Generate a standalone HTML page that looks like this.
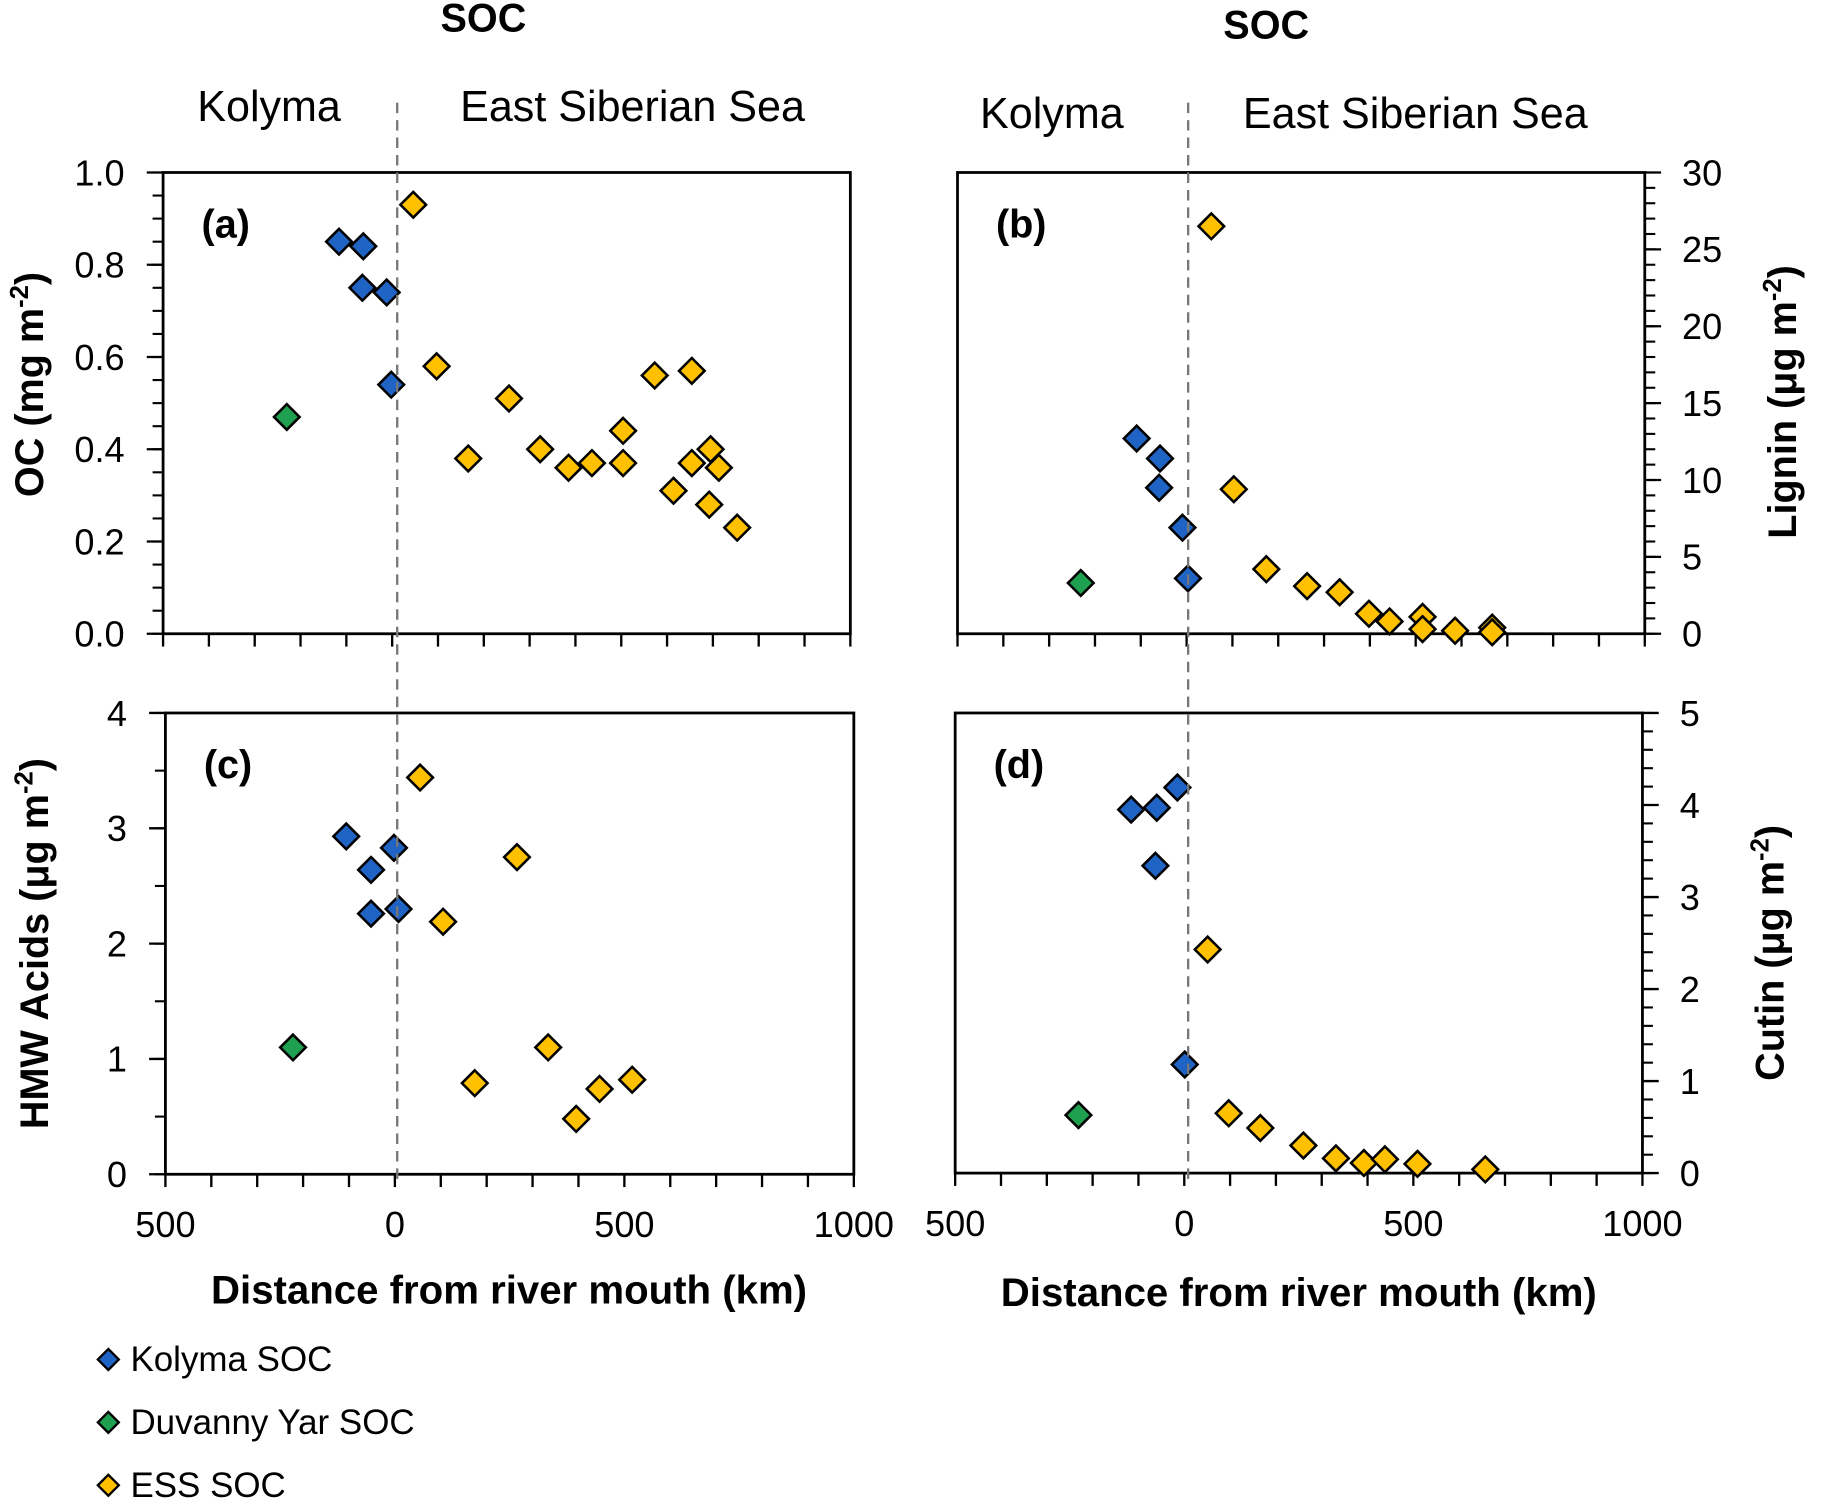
<!DOCTYPE html>
<html><head><meta charset="utf-8"><style>
html,body{margin:0;padding:0;background:#fff;}
svg{display:block;}
text{font-family:"Liberation Sans",sans-serif;fill:#000;}
</style></head><body>
<svg id="fig" width="1823" height="1504" viewBox="0 0 1565 1291" xmlns="http://www.w3.org/2000/svg">
<g id="root"></g>
</svg>
<script>
// ---- data (distance km, value) ----
const seriesNames = ["Kolyma SOC","Duvanny Yar SOC","ESS SOC"];
const aKolX=[-116,-63,-65,-12,-2], aKolY=[0.85,0.84,0.75,0.74,0.54];
const aDuvX=[-230], aDuvY=[0.47];
const aEssX=[46,97,166,255,323,385,436,504,504,573,654,614,654,695,713,692,753];
const aEssY=[0.93,0.58,0.38,0.51,0.40,0.36,0.37,0.44,0.37,0.56,0.57,0.31,0.37,0.40,0.36,0.28,0.23];
const bKolX=[-109,-58,-60,-9,3], bKolY=[12.7,11.4,9.5,6.9,3.6];
const bDuvX=[-231], bDuvY=[3.3];
const bEssX=[54,103,174,263,334,398,443,515,515,586,667,667];
const bEssY=[26.5,9.4,4.2,3.1,2.7,1.3,0.8,1.1,0.3,0.2,0.4,0.1];
const cKolX=[-106,-52,-2,-52,8], cKolY=[2.93,2.64,2.83,2.26,2.30];
const cDuvX=[-222], cDuvY=[1.10];
const cEssX=[55,266,105,174,334,395,446,517];
const cEssY=[3.44,2.75,2.19,0.79,1.10,0.48,0.74,0.82];
const dKolX=[-116,-60,-15,-63,1], dKolY=[3.95,3.97,4.19,3.34,1.18];
const dDuvX=[-231], dDuvY=[0.63];
const dEssX=[51,97,166,260,331,392,438,509,657];
const dEssY=[2.43,0.65,0.49,0.30,0.16,0.11,0.15,0.10,0.04];
const xTickLabels=["500","0","500","1000"];
const xTickVals=[-500,0,500,1000];
const aTicks=[0,0.2,0.4,0.6,0.8,1.0], bTicks=[0,5,10,15,20,25,30], cTicks=[0,1,2,3,4], dTicks=[0,1,2,3,4,5];

const NS="http://www.w3.org/2000/svg";
const root=document.getElementById('root');
function el(tag,attrs,parent,txt){const e=document.createElementNS(NS,tag);for(const k in attrs)e.setAttribute(k,attrs[k]);if(txt!==undefined)e.textContent=txt;(parent||root).appendChild(e);return e;}
const COL=["#1f63c4","#1fa050","#ffc000"];

function panel(o){
  const g=el('g',{});
  
  
  const xs=d=>o.x0+(d+500)/1500*(o.x1-o.x0);
  const ys=v=>o.y1-(v-0)/o.ymax*(o.y1-o.y0);
  const box=el('rect',{x:o.x0,y:o.y0,width:o.x1-o.x0,height:o.y1-o.y0,fill:'none',stroke:'#000','stroke-width':2.4},g);
  
  
  for(let d=-500;d<=1000;d+=100){el('line',{x1:xs(d),x2:xs(d),y1:o.y1,y2:o.y1+11,stroke:'#000','stroke-width':2},g);}
  if(o.xlabels){xTickVals.forEach((v,i)=>{const t=el('text',{x:xs(v),y:o.y1+54,'font-size':31,'text-anchor':'middle'},g,xTickLabels[i]);
    
    });}
  const ax=o.right?o.x1:o.x0, dir=o.right?1:-1;
  for(let v=0;v<=o.ymax+1e-9;v+=o.minor){el('line',{x1:ax,x2:ax+dir*9,y1:ys(v),y2:ys(v),stroke:'#000','stroke-width':1.8},g);}
  o.ticks.forEach(v=>{el('line',{x1:ax,x2:ax+dir*14,y1:ys(v),y2:ys(v),stroke:'#000','stroke-width':2},g);
    const t=el('text',{x:o.right?ax+32:ax-33,y:ys(v)+11,'font-size':31,'text-anchor':o.right?'start':'end'},g,o.fmt(v));
    
    });
  const pl=el('text',{x:o.x0+33,y:o.y0+56,'font-size':34,'font-weight':'bold'},g,'('+o.id+')');
  
  
  const sets=[[o.kx,o.ky,0],[o.dx,o.dy,1],[o.ex,o.ey,2]];
  sets.forEach(([X,Y,c])=>{X.forEach((d,i)=>{const cx=xs(d),cy=ys(Y[i]),r=11;
    const p=el('polygon',{points:`${cx},${cy-r} ${cx+r},${cy} ${cx},${cy+r} ${cx-r},${cy}`,fill:COL[c],stroke:'#000','stroke-width':2.2,'stroke-linejoin':'miter'},g);
    
    });});
}
panel({id:'a',x0:140,x1:730,y0:148,y1:544,ymax:1,minor:0.05,ticks:aTicks,fmt:v=>v.toFixed(1),kx:aKolX,ky:aKolY,dx:aDuvX,dy:aDuvY,ex:aEssX,ey:aEssY});
panel({id:'b',x0:822,x1:1412,y0:148,y1:544,ymax:30,minor:1,ticks:bTicks,fmt:v=>String(v),right:true,kx:bKolX,ky:bKolY,dx:bDuvX,dy:bDuvY,ex:bEssX,ey:bEssY});
panel({id:'c',x0:142,x1:733,y0:612,y1:1008,ymax:4,minor:0.5,ticks:cTicks,fmt:v=>String(v),xlabels:true,kx:cKolX,ky:cKolY,dx:cDuvX,dy:cDuvY,ex:cEssX,ey:cEssY});
panel({id:'d',x0:820,x1:1410,y0:612,y1:1007,ymax:5,minor:0.2,ticks:dTicks,fmt:v=>String(v),right:true,xlabels:true,kx:dKolX,ky:dKolY,dx:dDuvX,dy:dDuvY,ex:dEssX,ey:dEssY});

[[341,'left'],[1020,'right']].forEach(([x,n])=>{const l=el('line',{x1:x,x2:x,y1:88,y2:1015,stroke:'#777','stroke-width':2,'stroke-dasharray':'9,6'});
  
  });

function txt(name,x,y,s,size,extra){const t=el('text',Object.assign({x:x,y:y,'font-size':size,'text-anchor':'middle'},extra||{}),root,s);
  
  return t;}
txt('title-left',415,27,'SOC',34,{'font-weight':'bold'});
txt('title-right',1087,33,'SOC',34,{'font-weight':'bold'});
txt('region-kolyma-left',231,104,'Kolyma',37);
txt('region-ess-left',543,104,'East Siberian Sea',37);
txt('region-kolyma-right',903,110,'Kolyma',37);
txt('region-ess-right',1215,110,'East Siberian Sea',37);
txt('x-axis-title-left',437,1119,'Distance from river mouth (km)',34.5,{'font-weight':'bold'});
txt('x-axis-title-right',1115,1121,'Distance from river mouth (km)',34.5,{'font-weight':'bold'});
function ytitle(name,x,y,main,rot){const t=el('text',{x:0,y:0,'font-size':34,'font-weight':'bold','text-anchor':'middle',transform:`translate(${x},${y}) rotate(${rot})`});
  
  
  t.appendChild(document.createTextNode(main));
  const s=el('tspan',{'font-size':22,dy:-13},t,'-2');
  el('tspan',{dy:13},t,')');}
ytitle('y-axis-title-oc',37,330,'OC (mg m',-90);
ytitle('y-axis-title-hmw',41,810,'HMW Acids (μg m',-90);
ytitle('y-axis-title-lignin',1542,345,'Lignin (μg m',-90);
ytitle('y-axis-title-cutin',1531,818,'Cutin (μg m',-90);

seriesNames.forEach((n,i)=>{const y=1167+i*54,cx=93,r=9;
  const g=el('g',{});
  
  
  el('polygon',{points:`${cx},${y-r} ${cx+r},${y} ${cx},${y+r} ${cx-r},${y}`,fill:COL[i],stroke:'#000','stroke-width':2},g);
  el('text',{x:112,y:y+10,'font-size':30},g,n);});
</script>
</body></html>
